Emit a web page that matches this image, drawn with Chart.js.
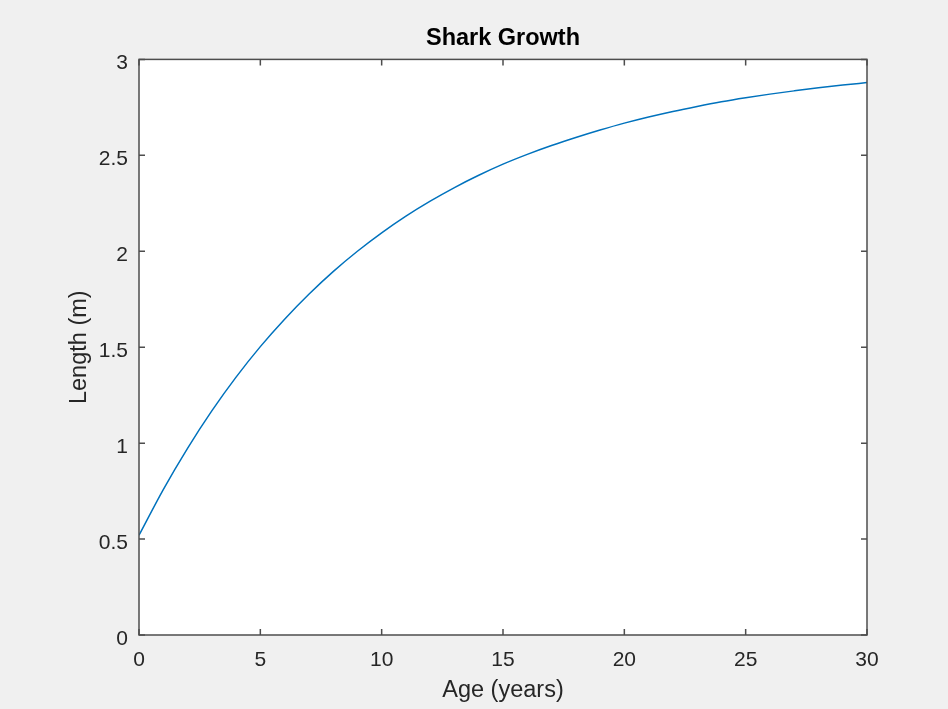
<!DOCTYPE html>
<html>
<head>
<meta charset="utf-8">
<script src="https://cdn.jsdelivr.net/npm/chart.js@4/dist/chart.umd.min.js"></script>
<style>
  html, body { margin: 0; padding: 0; background: #f0f0f0; }
  #wrap { width: 948px; height: 709px; }
</style>
</head>
<body>
<div id="wrap"><canvas id="c" width="948" height="709"></canvas></div>
<script>
const chartTitle = 'Shark Growth';
const xLabel = 'Age (years)';
const yLabel = 'Length (m)';
const ages = [0,1,2,3,4,5,6,7,8,9,10,11,12,13,14,15,16,17,18,19,20,21,22,23,24,25,26,27,28,29,30];
const lengths = [0.520,0.758,0.973,1.168,1.344,1.503,1.646,1.776,1.894,2.000,2.096,2.183,2.261,2.332,2.396,2.454,2.505,2.551,2.593,2.632,2.668,2.700,2.729,2.755,2.779,2.800,2.819,2.836,2.852,2.866,2.879];
const xTicks = [0,5,10,15,20,25,30];
const yTicks = [0,0.5,1,1.5,2,2.5,3];

const TEXT = '#262626';
const FONT = "'Liberation Sans', Arial, Helvetica, sans-serif";

const framePlugin = {
  id: 'frame',
  beforeDraw(chart) {
    const {ctx, chartArea: a} = chart;
    ctx.save();
    ctx.fillStyle = '#ffffff';
    ctx.fillRect(a.left, a.top, a.right - a.left, a.bottom - a.top);
    ctx.restore();
  },
  afterDraw(chart) {
    const {ctx, chartArea: a, scales} = chart;
    ctx.save();
    ctx.strokeStyle = '#4d4d4d';
    ctx.lineWidth = 1.5;
    ctx.strokeRect(a.left, a.top, a.right - a.left, a.bottom - a.top);
    const tl = 6;
    ctx.beginPath();
    scales.x.ticks.forEach(t => {
      const px = scales.x.getPixelForValue(t.value);
      ctx.moveTo(px, a.bottom); ctx.lineTo(px, a.bottom - tl);
      ctx.moveTo(px, a.top); ctx.lineTo(px, a.top + tl);
    });
    scales.y.ticks.forEach(t => {
      const py = scales.y.getPixelForValue(t.value);
      ctx.moveTo(a.left, py); ctx.lineTo(a.left + tl, py);
      ctx.moveTo(a.right, py); ctx.lineTo(a.right - tl, py);
    });
    ctx.stroke();
    ctx.restore();
  }
};

new Chart(document.getElementById('c'), {
  type: 'line',
  data: {
    datasets: [{
      data: ages.map((a, i) => ({x: a, y: lengths[i]})),
      borderColor: '#0072BD',
      borderWidth: 1.5,
      pointRadius: 0,
      fill: false,
      cubicInterpolationMode: 'monotone'
    }]
  },
  options: {
    responsive: false,
    animation: false,
    layout: { padding: { left: 0, right: 81, top: 0, bottom: 0 } },
    plugins: {
      legend: { display: false },
      tooltip: { enabled: false },
      title: {
        display: true,
        text: chartTitle,
        fullSize: false,
        color: '#000000',
        font: { family: FONT, size: 23.5, weight: 'bold' },
        padding: { top: 24.6, bottom: 6.6 }
      }
    },
    scales: {
      x: {
        type: 'linear',
        min: 0, max: 30,
        afterBuildTicks: s => { s.ticks = xTicks.map(v => ({value: v})); },
        afterFit: s => { s.height = 74; },
        grid: { display: false, drawTicks: false },
        border: { display: false },
        ticks: { color: TEXT, font: { family: FONT, size: 21 }, padding: 13, maxRotation: 0 },
        title: { display: true, text: xLabel, color: TEXT, font: { family: FONT, size: 23.5 }, padding: { top: 0, bottom: 4.6 } }
      },
      y: {
        type: 'linear',
        min: 0, max: 3,
        afterBuildTicks: s => { s.ticks = yTicks.map(v => ({value: v})); },
        afterFit: s => { s.width = 139; },
        grid: { display: false, drawTicks: false },
        border: { display: false },
        ticks: { color: TEXT, font: { family: FONT, size: 21 }, padding: 11, labelOffset: 4, callback: v => String(v) },
        title: { display: true, text: yLabel, color: TEXT, font: { family: FONT, size: 23.5 }, padding: { top: 65.6, bottom: 0 } }
      }
    }
  },
  plugins: [framePlugin]
});
</script>
</body>
</html>
